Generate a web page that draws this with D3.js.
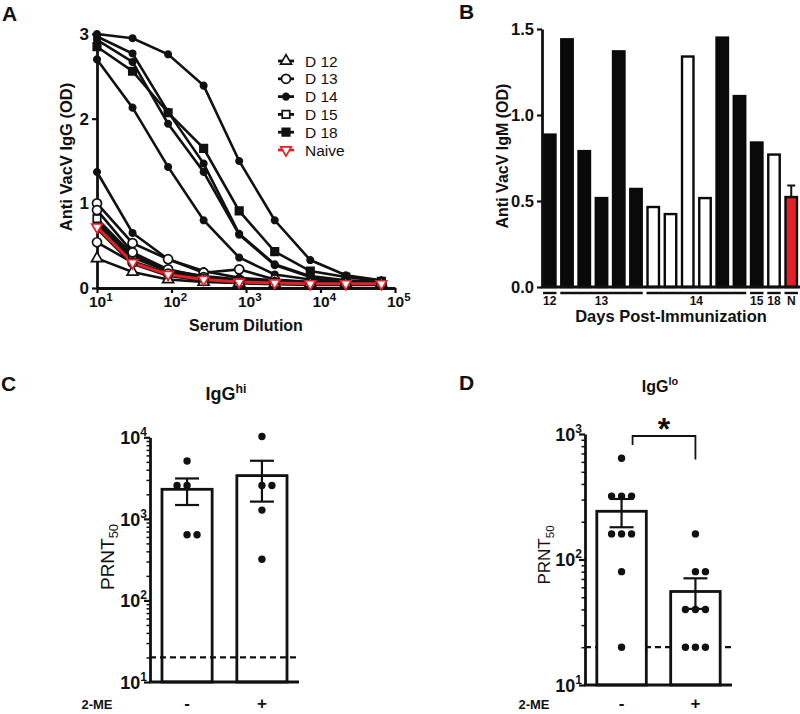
<!DOCTYPE html>
<html><head><meta charset="utf-8">
<script src="https://cdn.jsdelivr.net/npm/d3@7"></script>
<style>body{margin:0;background:#fff}svg{display:block}text{font-family:"Liberation Sans",Arial,sans-serif;fill:#111}</style>
</head><body><svg id="c" width="800" height="714"></svg>
<script>
// ---------------- DATA ----------------
// Panel A: serum dilution curves (OD)
const dilutions = [10, 30, 90, 270, 810, 2430, 7290, 21870, 65610];
const seriesNames = ["D 12", "D 13", "D 14", "D 15", "D 18", "Naive"];
const d12Lines = [
  [0.35, 0.19, 0.10, 0.07, 0.06, 0.05, 0.05, 0.05, 0.05]
];
const d13Lines = [
  [1.00, 0.53, 0.34, 0.18, 0.22, 0.10, 0.07, 0.06, 0.05],
  [0.92, 0.42, 0.22, 0.13, 0.09, 0.07, 0.06, 0.05, 0.05],
  [0.54, 0.30, 0.17, 0.11, 0.08, 0.06, 0.05, 0.05, 0.05]
];
const d14Lines = [
  [3.00, 2.95, 2.76, 2.39, 1.50, 0.80, 0.33, 0.15, 0.09],
  [2.97, 2.77, 2.08, 1.47, 0.64, 0.28, 0.14, 0.09, 0.07],
  [2.93, 2.67, 1.94, 1.37, 0.63, 0.27, 0.13, 0.08, 0.06],
  [2.70, 2.13, 1.43, 0.80, 0.36, 0.16, 0.10, 0.07, 0.06],
  [1.37, 0.65, 0.34, 0.20, 0.12, 0.09, 0.07, 0.06, 0.05],
  [0.78, 0.38, 0.21, 0.14, 0.10, 0.08, 0.06, 0.06, 0.05],
  [0.76, 0.36, 0.20, 0.13, 0.09, 0.07, 0.06, 0.05, 0.05]
];
const d15Lines = [
  [0.82, 0.39, 0.20, 0.12, 0.09, 0.07, 0.06, 0.05, 0.05]
];
const d18Lines = [
  [2.85, 2.56, 2.07, 1.65, 0.91, 0.43, 0.20, 0.13, 0.08]
];
const naiveLines = [
  [0.72, 0.30, 0.16, 0.10, 0.07, 0.06, 0.05, 0.05, 0.05]
];
const yTicksA = [0, 1, 2, 3];
const xTicksA = [10, 100, 1000, 10000, 100000];

// Panel B: IgM OD per mouse
const igmValues = [0.886, 1.44, 0.79, 0.517, 1.37, 0.57, 0.465, 0.424, 1.34, 0.517, 1.45, 1.11, 0.84, 0.77, 0.523];
const igmType   = ["hi","hi","hi","hi","hi","hi","lo","lo","lo","lo","hi","hi","hi","lo","naive"];
const igmNaiveSem = 0.067;
const dayLabels = ["12", "13", "14", "15", "18", "N"];
const daySizes  = [1, 5, 6, 1, 1, 1];
const yTicksB = [0, 0.5, 1.0, 1.5];

// Panel C: IgG-hi PRNT50
const meGroups = ["-", "+"];
const hiPoints = [[5120, 2560, 2560, 640, 640], [10240, 2560, 2560, 1280, 320]];
const hiMean = [2304, 3392];
const hiSem  = [825, 1764];
// Panel D: IgG-lo PRNT50
const loPoints = [[640, 320, 320, 320, 160, 160, 160, 80, 20], [160, 80, 80, 40, 40, 40, 20, 20, 20]];
const loMean = [242.2, 55.6];
const loSem  = [61.5, 15.2];
const detectionLimit = 20;

// ---------------- DRAWING ----------------
const svg = d3.select("#c");
const RED = "#e32026";

function panelLetter(t, x, y) {
  svg.append("text").attr("x", x).attr("y", y).attr("font-size", 21).attr("font-weight", "bold").text(t);
}
function styleAxis(g) {
  g.select(".domain").attr("stroke", "#111").attr("stroke-width", 2.8);
  g.selectAll(".tick line").attr("stroke", "#111").attr("stroke-width", 2.2);
}

// ===== Panel A =====
panelLetter("A", 2, 21);
const xA = d3.scaleLog().domain([10, 1e5]).range([97, 395]);
const yA = d3.scaleLinear().domain([0, 3]).range([288, 34]);

const gAy = svg.append("g").attr("transform", "translate(97,0)")
  .call(d3.axisLeft(yA).tickValues(yTicksA).tickSize(5).tickSizeOuter(0).tickPadding(3).tickFormat(d3.format("d")));
styleAxis(gAy);
gAy.selectAll("text").attr("font-size", 17).attr("font-weight", "bold").attr("fill", "#111");

const gAx = svg.append("g").attr("transform", "translate(0,288)")
  .call(d3.axisBottom(xA).tickValues(xTicksA).tickSize(5).tickSizeOuter(0).tickFormat(""));
styleAxis(gAx);
gAx.selectAll(".tick").each(function(d) {
  const t = d3.select(this).append("text").attr("y", 19).attr("x", -8.5).attr("text-anchor", "start")
    .attr("font-size", 15.5).attr("font-weight", "bold").attr("fill", "#111");
  t.append("tspan").text("10");
  t.append("tspan").attr("dy", -6).attr("font-size", 11.5).text(Math.round(Math.log10(d)));
});

svg.append("text").attr("transform", "translate(72,157) rotate(-90)").attr("text-anchor", "middle")
  .attr("font-size", 16.5).attr("font-weight", "bold").text("Anti VacV IgG (OD)");
svg.append("text").attr("x", 246).attr("y", 331).attr("text-anchor", "middle")
  .attr("font-size", 16).attr("font-weight", "bold").text("Serum Dilution");

const markerDefs = {
  "D 12": {sym: d3.symbolTriangle, size: 52, fill: "#fff", stroke: "#111", rot: 0, line: "#111"},
  "D 13": {sym: d3.symbolCircle, size: 64, fill: "#fff", stroke: "#111", rot: 0, line: "#111"},
  "D 14": {sym: d3.symbolCircle, size: 32, fill: "#111", stroke: "#111", rot: 0, line: "#111"},
  "D 15": {sym: d3.symbolSquare, size: 56, fill: "#fff", stroke: "#111", rot: 0, line: "#111"},
  "D 18": {sym: d3.symbolSquare, size: 56, fill: "#111", stroke: "#111", rot: 0, line: "#111"},
  "Naive": {sym: d3.symbolTriangle, size: 48, fill: "#fff", stroke: RED, rot: 180, line: RED}
};
const groupsA = [
  ["D 14", d14Lines], ["D 18", d18Lines], ["D 15", d15Lines],
  ["D 13", d13Lines], ["D 12", d12Lines], ["Naive", naiveLines]
];
const lineA = d3.line().x((d, i) => xA(dilutions[i])).y(d => yA(d));
groupsA.forEach(([name, lines]) => {
  const m = markerDefs[name];
  lines.forEach(vals => {
    if (name === "Naive") {
      svg.append("path").attr("d", lineA(vals)).attr("fill", "none").attr("stroke", "#111").attr("stroke-width", 5);
    }
    svg.append("path").attr("d", lineA(vals)).attr("fill", "none")
      .attr("stroke", m.line).attr("stroke-width", name === "Naive" ? 3 : 2.6);
  });
});
groupsA.forEach(([name, lines]) => {
  const m = markerDefs[name];
  lines.forEach(vals => {
    svg.append("g").selectAll("path").data(vals).join("path")
      .attr("d", d3.symbol().type(m.sym).size(m.size))
      .attr("transform", (d, i) => `translate(${xA(dilutions[i])},${yA(d)}) rotate(${m.rot})`)
      .attr("fill", m.fill).attr("stroke", m.stroke).attr("stroke-width", 1.7);
  });
});
// legend
seriesNames.forEach((name, i) => {
  const m = markerDefs[name];
  const y = 61 + i * 17.8;
  svg.append("line").attr("x1", 278).attr("x2", 294).attr("y1", y).attr("y2", y)
    .attr("stroke", m.line).attr("stroke-width", 2.8);
  svg.append("path").attr("d", d3.symbol().type(m.sym).size(m.size)())
    .attr("transform", `translate(286,${y}) rotate(${m.rot})`)
    .attr("fill", m.fill).attr("stroke", m.stroke).attr("stroke-width", 1.7);
  svg.append("text").attr("x", 305).attr("y", y).attr("dy", "0.36em").attr("font-size", 15.5).text(name);
});

// ===== Panel B =====
panelLetter("B", 459, 19);
const xB = d3.scaleBand().domain(d3.range(igmValues.length)).range([542, 799]).paddingInner(0.22).paddingOuter(0.06);
const yB = d3.scaleLinear().domain([0, 1.5]).range([287, 29]);
const typeFill = {hi: "#0a0a0a", lo: "#fff", naive: RED};
svg.append("g").selectAll("rect").data(igmValues).join("rect")
  .attr("x", (d, i) => xB(i) + 1).attr("width", xB.bandwidth() - 2)
  .attr("y", d => yB(d)).attr("height", d => yB(0) - yB(d))
  .attr("fill", (d, i) => typeFill[igmType[i]]).attr("stroke", "#0a0a0a").attr("stroke-width", 2.4);
// naive error bar
{
  const ni = igmValues.length - 1;
  const cx = xB(ni) + xB.bandwidth() / 2;
  const v = igmValues[ni];
  svg.append("line").attr("x1", cx).attr("x2", cx).attr("y1", yB(v)).attr("y2", yB(v + igmNaiveSem)).attr("stroke", "#111").attr("stroke-width", 2);
  svg.append("line").attr("x1", cx - 4).attr("x2", cx + 4).attr("y1", yB(v + igmNaiveSem)).attr("y2", yB(v + igmNaiveSem)).attr("stroke", "#111").attr("stroke-width", 2);
}
const gBy = svg.append("g").attr("transform", "translate(542,0)")
  .call(d3.axisLeft(yB).tickValues(yTicksB).tickSize(5).tickSizeOuter(0).tickPadding(3).tickFormat(d3.format(".1f")));
styleAxis(gBy);
gBy.selectAll("text").attr("font-size", 16.5).attr("font-weight", "bold").attr("fill", "#111");
svg.append("line").attr("x1", 541).attr("x2", 800).attr("y1", 287).attr("y2", 287).attr("stroke", "#111").attr("stroke-width", 2.8);
// day groups
{
  let start = 0;
  dayLabels.forEach((lab, gi) => {
    const end = start + daySizes[gi] - 1;
    const x1 = xB(start), x2 = xB(end) + xB.bandwidth();
    svg.append("line").attr("x1", x1).attr("x2", x2).attr("y1", 293).attr("y2", 293).attr("stroke", "#111").attr("stroke-width", 2.4);
    svg.append("text").attr("x", (x1 + x2) / 2).attr("y", 305).attr("text-anchor", "middle")
      .attr("font-size", 12).attr("font-weight", "bold").text(lab);
    start = end + 1;
  });
}
svg.append("text").attr("transform", "translate(508,156) rotate(-90)").attr("text-anchor", "middle")
  .attr("font-size", 16).attr("font-weight", "bold").text("Anti VacV IgM (OD)");
svg.append("text").attr("x", 671).attr("y", 322).attr("text-anchor", "middle")
  .attr("font-size", 16.5).attr("font-weight", "bold").text("Days Post-Immunization");

// ===== Log panels C and D =====
function logPanel(opt) {
  const x = d3.scaleBand().domain(meGroups).range([opt.x0, opt.x1]).paddingInner(0.33).paddingOuter(0.16);
  const y = d3.scaleLog().domain([opt.lo, opt.hi]).range([opt.yb, opt.yt]);
  const lo = Math.log10(opt.lo), hi = Math.log10(opt.hi);
  const minors = [];
  for (let k = lo; k < hi; k++) for (let m = 2; m <= 9; m++) minors.push(m * Math.pow(10, k));
  const majors = d3.range(lo, hi + 1).map(k => Math.pow(10, k));

  const dashed = () => svg.append("line").attr("x1", opt.x0).attr("x2", opt.x1)
    .attr("y1", y(detectionLimit)).attr("y2", y(detectionLimit))
    .attr("stroke", "#111").attr("stroke-width", 2.2).attr("stroke-dasharray", "6,4");
  if (!opt.dashFront) dashed();

  // bars
  meGroups.forEach((g, i) => {
    svg.append("rect").attr("x", x(g)).attr("width", x.bandwidth())
      .attr("y", y(opt.mean[i])).attr("height", opt.yb - y(opt.mean[i]))
      .attr("fill", "#fff").attr("stroke", "#111").attr("stroke-width", 2.8);
  });
  if (opt.dashFront) dashed();
  // error bars
  meGroups.forEach((g, i) => {
    const cx = x(g) + x.bandwidth() / 2;
    const top = y(opt.mean[i] + opt.sem[i]), bot = y(opt.mean[i] - opt.sem[i]);
    svg.append("line").attr("x1", cx).attr("x2", cx).attr("y1", top).attr("y2", bot).attr("stroke", "#111").attr("stroke-width", 2.2);
    [top, bot].forEach(yy => svg.append("line").attr("x1", cx - 12).attr("x2", cx + 12).attr("y1", yy).attr("y2", yy).attr("stroke", "#111").attr("stroke-width", 2.2));
  });
  // points
  meGroups.forEach((g, i) => {
    const cx = x(g) + x.bandwidth() / 2;
    svg.append("g").selectAll("circle").data(opt.points[i]).join("circle")
      .attr("cx", (d, j) => cx + opt.jitter[i][j] * 10).attr("cy", d => y(d)).attr("r", 3.7).attr("fill", "#111");
  });
  // axes
  const gm = svg.append("g").attr("transform", `translate(${opt.x0},0)`)
    .call(d3.axisLeft(y).tickValues(minors).tickSize(3.5).tickFormat(""));
  gm.select(".domain").remove();
  gm.selectAll(".tick line").attr("stroke", "#111").attr("stroke-width", 1.5);
  const gy = svg.append("g").attr("transform", `translate(${opt.x0},0)`)
    .call(d3.axisLeft(y).tickValues(majors).tickSize(6).tickSizeOuter(0).tickFormat(""));
  styleAxis(gy);
  gy.selectAll(".tick").each(function(d) {
    const t = d3.select(this).append("text").attr("x", -3).attr("dy", "0.36em").attr("text-anchor", "end")
      .attr("font-size", 18).attr("font-weight", "bold").attr("fill", "#111");
    t.append("tspan").text("10");
    t.append("tspan").attr("dy", -8).attr("font-size", 12).text(Math.round(Math.log10(d)));
  });
  svg.append("line").attr("x1", opt.x0 - 1).attr("x2", opt.x1).attr("y1", opt.yb).attr("y2", opt.yb).attr("stroke", "#111").attr("stroke-width", 2.8);
  // x labels
  meGroups.forEach(g => {
    svg.append("text").attr("x", x(g) + x.bandwidth() / 2).attr("y", 709).attr("text-anchor", "middle")
      .attr("font-size", 17).attr("font-weight", "bold").text(g);
  });
  svg.append("text").attr("x", opt.meX).attr("y", 709).attr("text-anchor", "middle")
    .attr("font-size", 13).attr("font-weight", "bold").text("2-ME");
  // y title
  const yt = svg.append("text").attr("transform", `translate(${opt.ytX},${opt.ytY}) rotate(-90)`).attr("text-anchor", "middle")
    .attr("font-size", opt.ytSize);
  yt.append("tspan").text("PRNT");
  yt.append("tspan").attr("dy", 4).attr("font-size", opt.ytSize * 0.68).text("50");
  // title
  const tt = svg.append("text").attr("x", opt.titleX).attr("y", opt.titleY).attr("text-anchor", "middle")
    .attr("font-size", opt.titleSize).attr("font-weight", "bold");
  tt.append("tspan").text("IgG");
  tt.append("tspan").attr("dy", -7).attr("font-size", opt.titleSize * 0.68).text(opt.sup);
  return {x, y};
}

panelLetter("C", 1, 391);
logPanel({
  x0: 150, x1: 299, yt: 437.3, yb: 682, lo: 10, hi: 1e4,
  points: hiPoints, mean: hiMean, sem: hiSem,
  jitter: [[0, -1, 0, 0, 1], [0, 0, 1, 0, 0]],
  dashFront: true, meX: 97, ytX: 114, ytY: 557, ytSize: 19,
  titleX: 226, titleY: 400, titleSize: 18, sup: "hi"
});

panelLetter("D", 459, 390);
const pD = logPanel({
  x0: 585, x1: 732, yt: 434, yb: 685, lo: 10, hi: 1000,
  points: loPoints, mean: loMean, sem: loSem,
  jitter: [[0, -1, 0, 1, -1, 0, 1, 0, 0], [0, 0, 1, -1, 0, 1, -1, 0, 1]],
  dashFront: false, meX: 534, ytX: 550, ytY: 555, ytSize: 17,
  titleX: 660, titleY: 392, titleSize: 16, sup: "lo"
});
// significance bracket
{
  const c1 = pD.x("-") + pD.x.bandwidth() / 2 + 11;
  const c2 = pD.x("+") + pD.x.bandwidth() / 2;
  svg.append("path").attr("d", `M${c1},445 V436 H${c2} V459.5`).attr("fill", "none").attr("stroke", "#111").attr("stroke-width", 1.8);
  svg.append("text").attr("x", (c1 + c2) / 2).attr("y", 440).attr("text-anchor", "middle")
    .attr("font-size", 32).attr("font-weight", "bold").text("*");
}
</script></body></html>
